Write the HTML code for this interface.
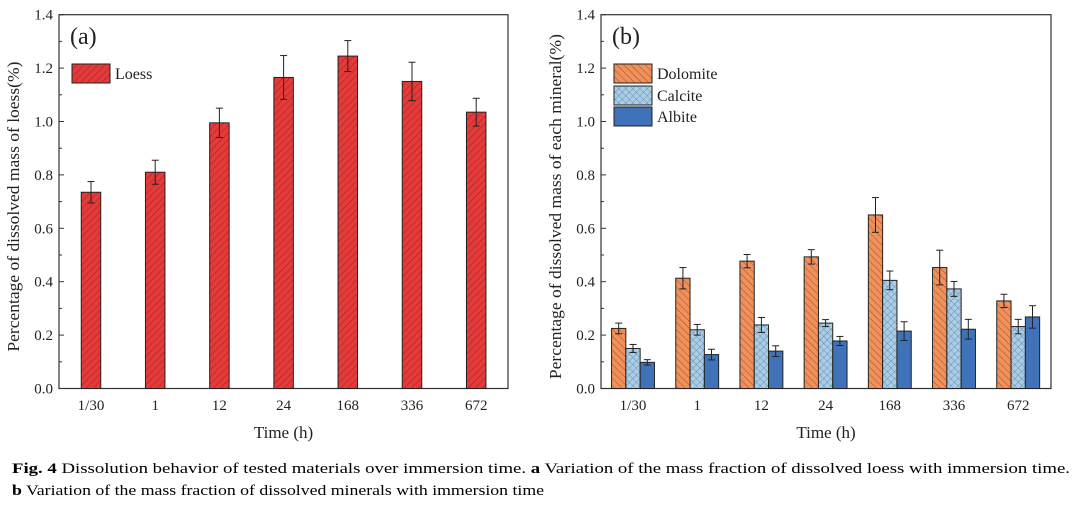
<!DOCTYPE html>
<html><head><meta charset="utf-8"><style>
body{margin:0;background:#fff;}
svg{display:block;font-family:"Liberation Serif",serif;}
</style></head><body>
<svg id="fig" width="1080" height="510" viewBox="0 0 1080 510" xmlns="http://www.w3.org/2000/svg">
<defs>
<pattern id="hatchR" patternUnits="userSpaceOnUse" width="5" height="5" patternTransform="rotate(45)"><rect width="5" height="5" fill="#e53a3a"/><line x1="0" y1="0" x2="0" y2="5" stroke="#8a1a1a" stroke-width="0.8"/></pattern>
<pattern id="hatchO" patternUnits="userSpaceOnUse" width="5" height="5" patternTransform="rotate(-45)"><rect width="5" height="5" fill="#f0905a"/><line x1="0" y1="0" x2="0" y2="5" stroke="#8a4020" stroke-width="0.8"/></pattern>
<pattern id="crossB" patternUnits="userSpaceOnUse" width="5" height="5" patternTransform="rotate(45)"><rect width="5" height="5" fill="#a9cde6"/><line x1="0" y1="0" x2="0" y2="5" stroke="#4a6a85" stroke-width="0.6"/><line x1="0" y1="0" x2="5" y2="0" stroke="#4a6a85" stroke-width="0.6"/></pattern>
</defs>
<g id="panelA"></g>
<g id="panelB"></g>
<text x="12" y="473" font-family="Liberation Serif, serif" font-size="15" textLength="1058" lengthAdjust="spacingAndGlyphs"><tspan font-weight="bold">Fig. 4</tspan>  Dissolution behavior of tested materials over immersion time. <tspan font-weight="bold">a</tspan> Variation of the mass fraction of dissolved loess with immersion time.</text>
<text x="12" y="495" font-family="Liberation Serif, serif" font-size="15" textLength="532" lengthAdjust="spacingAndGlyphs"><tspan font-weight="bold">b</tspan> Variation of the mass fraction of dissolved minerals with immersion time</text>
</svg>
<script>
const categories = ["1/30","1","12","24","168","336","672"];
const yTicks = [0.0,0.2,0.4,0.6,0.8,1.0,1.2,1.4];
const loess = [0.735,0.81,0.995,1.165,1.245,1.15,1.035];
const loessErr = [0.04,0.045,0.055,0.082,0.058,0.072,0.052];
const dolomite = [0.225,0.413,0.477,0.493,0.65,0.453,0.328];
const dolomiteErr = [0.02,0.04,0.025,0.027,0.065,0.065,0.025];
const calcite = [0.15,0.22,0.238,0.245,0.405,0.373,0.232];
const calciteErr = [0.015,0.02,0.028,0.013,0.035,0.028,0.027];
const albite = [0.098,0.127,0.14,0.178,0.215,0.222,0.268];
const albiteErr = [0.01,0.02,0.02,0.017,0.035,0.037,0.042];

const NS="http://www.w3.org/2000/svg";
function mk(parent,tag,attrs,text){const e=document.createElementNS(NS,tag);for(const k in attrs)e.setAttribute(k,attrs[k]);if(text!==undefined)e.textContent=text;parent.appendChild(e);return e;}
const Y0=388.5,Y1=14.7;
function yScale(v){return Y0-(v/1.4)*(Y0-Y1);}

function axes(g,x0,x1,cx0,step,label,ytitle,tlen){
  const box=mk(g,'rect',{x:x0,y:Y1,width:x1-x0,height:Y0-Y1,fill:'none',stroke:'#333','stroke-width':1.2});
  
  yTicks.forEach(t=>{const y=yScale(t);
    mk(g,'line',{x1:x0,x2:x0+5,y1:y,y2:y,stroke:'#333'});
    const tl=mk(g,'text',{x:x0-6,y:y+5,'text-anchor':'end','font-size':15,fill:'#222'},t.toFixed(1));
    
    if(t<1.4){const ym=yScale(t+0.1);mk(g,'line',{x1:x0,x2:x0+3,y1:ym,y2:ym,stroke:'#333'});}
  });
  categories.forEach((c,i)=>{const x=cx0+i*step;
    mk(g,'line',{x1:x,x2:x,y1:Y0,y2:Y0-4,stroke:'#333'});
    const tl=mk(g,'text',{x:x,y:410,'text-anchor':'middle','font-size':15,fill:'#222'},c);
    
  });
  const xt=mk(g,'text',{x:(x0+x1)/2,y:438,'text-anchor':'middle','font-size':17,fill:'#222'},'Time (h)');
  
  const yx=x0-40, yc=(Y0+Y1)/2+5;
  const yt=mk(g,'text',{x:yx,y:yc,'text-anchor':'middle','font-size':16.5,fill:'#222',textLength:tlen,lengthAdjust:'spacingAndGlyphs',transform:`rotate(-90 ${yx} ${yc})`},ytitle);
  
  const pl=mk(g,'text',{x:x0+11,y:44,'font-size':24,fill:'#222'},label);
  
}
function bar(g,cx,w,v,err,fill,name){
  const y=yScale(v);
  const r=mk(g,'rect',{x:cx-w/2,y:y,width:w,height:Y0-y,fill:fill,stroke:'#222','stroke-width':1});
  
  const yt=yScale(v+err),yb=yScale(v-err);
  mk(g,'line',{x1:cx,x2:cx,y1:yt,y2:yb,stroke:'#222','stroke-width':1});
  mk(g,'line',{x1:cx-3.5,x2:cx+3.5,y1:yt,y2:yt,stroke:'#222','stroke-width':1});
  mk(g,'line',{x1:cx-3.5,x2:cx+3.5,y1:yb,y2:yb,stroke:'#222','stroke-width':1});
}
function legend(g,x,y,fill,label){
  const r=mk(g,'rect',{x:x,y:y,width:38,height:19,fill:fill,stroke:'#222','stroke-width':1});
  
  const t=mk(g,'text',{x:x+43,y:y+15,'font-size':16,fill:'#222'},label);
  
}
const gA=document.getElementById('panelA');
axes(gA,59,508,91,64.2,'(a)','Percentage of dissolved mass of loess(%)',290);
loess.forEach((v,i)=>bar(gA,91+i*64.2,19.5,v,loessErr[i],'url(#hatchR)','bar-loess'));
legend(gA,72,64,'url(#hatchR)','Loess');
const gB=document.getElementById('panelB');
axes(gB,601,1051,633,64.2,'(b)','Percentage of dissolved mass of each mineral(%)',345);
const bw=14.3;
categories.forEach((c,i)=>{const cx=633+i*64.2;
  bar(gB,cx-bw,bw,dolomite[i],dolomiteErr[i],'url(#hatchO)','bar-dolomite');
  bar(gB,cx,bw,calcite[i],calciteErr[i],'url(#crossB)','bar-calcite');
  bar(gB,cx+bw,bw,albite[i],albiteErr[i],'#3f72b8','bar-albite');
});
legend(gB,614,64,'url(#hatchO)','Dolomite');
legend(gB,614,86,'url(#crossB)','Calcite');
legend(gB,614,107,'#3f72b8','Albite');
</script>
</body></html>
